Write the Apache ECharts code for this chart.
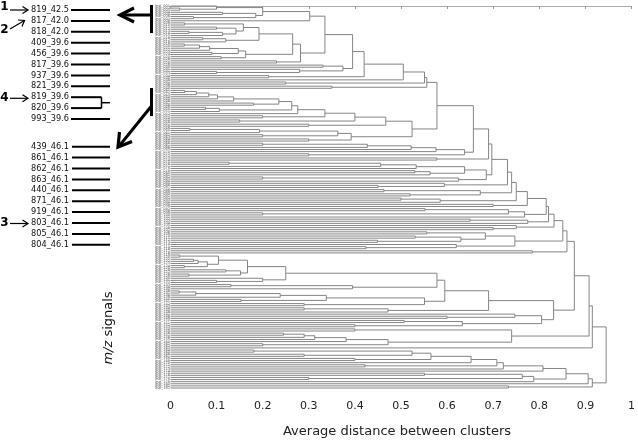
<!DOCTYPE html>
<html><head><meta charset="utf-8">
<script src="https://cdn.jsdelivr.net/npm/echarts@6/dist/echarts.min.js"></script>
<style>html,body{margin:0;padding:0;background:#fff}#c{width:638px;height:444px}</style>
</head><body><div id="c"></div>
<script>
// ---------- DATA ----------
// subtree = [mergeDistance, upperChild, lowerChild]; 0 = a single signal (leaf)
const T1 = [0.302, [0.20, [0.10, 0, [0.02, 0, 0]], [0.185, [0.113, 0, 0], [0.05, 0, 0]]], 0];
const T2a = [0.158, [0.031, 0, 0], [0.142, [0.10, 0, 0], [0.113, [0.04, 0, 0], 0]]];
const T2b = [0.12, [0.07, 0, 0], 0];
const T2c = [0.163, [0.147, [0.085, [0.063, [0.03, 0, 0], 0], 0], [0.09, 0, 0]], [0.11, 0, 0]];
const T3 = [0.374, [0.331, 0, 0], [0.28, 0, [0.1, 0, 0]]];
const topCluster = [0.42, [0.395, [0.335, T1, [0.282, [0.265, [0.192, T2a, T2b], T2c], [0.23, 0, 0]]], T3], [0.213, 0, 0]];

const M2a = [0.467, [0.40, [0.335, [0.276, [0.263, [0.235, [0.137, [0.102, [0.083, [0.056, [0.031, 0, 0], 0], 0], 0], 0], [0.18, 0, 0]], [0.106, [0.076, 0, 0], 0]], 0], [0.2, 0, 0]], [0.15, 0, 0]], [0.3, 0, 0]];
const M2b = [0.392, [0.363, [0.193, [0.042, 0, 0], 0], [0.2, 0, 0]], [0.3, 0, 0]];
const M2 = [0.524, M2a, M2b];
const M3 = [0.638, [0.576, [0.522, [0.427, [0.2, 0, 0], 0], 0], 0], [0.3, 0, 0]];
const M4 = [0.685, [0.638, [0.533, [0.456, [0.127, 0, 0], 0], 0], [0.563, [0.530, 0, 0], 0]], [0.625, [0.2, 0, 0], 0]];
const M5 = [0.747, [0.683, [0.556, 0, 0], [0.630, [0.531, 0, 0], [0.449, 0, 0]]], [0.62, 0, [0.424, 0, 0]]];

// successive merges of the upper group: [distance, cluster that joins]
const upperChain = [
  [0.505, 0], [0.551, [0.25, 0, 0]], [0.556, [0.35, 0, 0]], [0.578, M2], [0.657, M3],
  [0.690, [0.578, 0, 0]], [0.697, M4], [0.731, [0.594, 0, [0.45, 0, 0]]],
  [0.740, [0.672, [0.463, 0, 0], [0.52, 0, 0]]], [0.750, [0.585, [0.5, 0, 0], 0]],
  [0.774, [0.70, 0, 0]], [0.815, [0.768, [0.733, [0.552, 0, 0], [0.2, 0, 0]], 0]],
  [0.820, [0.775, [0.65, 0, 0], 0]], [0.832, [0.75, 0, [0.7, 0, 0]]],
  [0.851, M5], [0.860, [0.785, 0, 0]]
];

const C1 = [0.25, [0.167, [0.104, [0.02, 0, 0], [0.08, [0.06, [0.05, 0, 0], 0], [0.03, 0, 0]]], [0.152, [0.12, 0, 0], [0.04, 0, 0]]], [0.2, 0, [0.1, 0, 0]]];
const midChain = [
  [0.578, [0.395, [0.131, 0, 0], 0]],
  [0.595, [0.551, [0.338, [0.238, [0.055, [0.019, 0, 0], 0], 0], [0.153, 0, 0]], [0.29, 0, 0]]],
  [0.690, [0.472, [0.29, 0, 0], 0]],
  [0.831, [0.805, [0.747, 0, [0.6, 0, 0]], [0.633, [0.507, 0, 0], [0.4, 0, 0]]]]
];
const D1 = [0.740, [0.40, 0, 0], [0.472, [0.381, [0.313, [0.29, [0.245, 0, 0], 0], 0], 0], [0.2, 0, 0]]];

const B0 = [0.524, [0.181, 0, 0], [0.29, 0, 0]];
const bottomChain = [
  [0.565, [0.4, 0, 0]], [0.652, 0], [0.708, [0.422, 0, 0]], [0.722, 0], [0.808, 0],
  [0.858, [0.788, [0.763, [0.551, 0, 0], [0.3, 0, 0]], 0]], [0.906, 0], [0.915, [0.733, 0, 0]]
];
// top-level merges
const rootChainDist = [0.876, 0.908, 0.915, 0.945];

const xTickLabels = ['0', '0.1', '0.2', '0.3', '0.4', '0.5', '0.6', '0.7', '0.8', '0.9', '1'];
const groupA = ['819_42.5', '817_42.0', '818_42.0', '409_39.6', '456_39.6', '817_39.6', '937_39.6', '821_39.6', '819_39.6', '820_39.6', '993_39.6'];
const groupB = ['439_46.1', '861_46.1', '862_46.1', '863_46.1', '440_46.1', '871_46.1', '919_46.1', '803_46.1', '805_46.1', '804_46.1'];
const axisTitle = 'Average distance between clusters';

// ---------- build tree ----------
function fold(start, chain) { let n = start; chain.forEach(c => { n = [c[0], n, c[1]]; }); return n; }
const upper = fold(topCluster, upperChain);
const mid = fold(C1, midChain);
const bottom = fold(B0, bottomChain);
const root = fold(upper, [[rootChainDist[0], mid], [rootChainDist[1], D1], [rootChainDist[2], 0], [rootChainDist[3], bottom]]);

const links = [], leaves = [];
function layout(node) {
  if (node === 0) { const i = leaves.length; leaves.push(i); return { x: 0, y: i }; }
  const a = layout(node[1]), b = layout(node[2]);
  links.push([node[0], a.y, b.y, a.x, b.x]);
  return { x: node[0], y: (a.y + b.y) / 2 };
}
layout(root);
const N = leaves.length;
const leafNames = leaves.map(i => 'leaf_' + String(i + 1).padStart(3, '0'));

// ---------- chart ----------
const chart = echarts.init(document.getElementById('c'), null, { renderer: 'canvas' });
const F = 'DejaVu Sans';
const g = [];
function txt(x, y, t, o) { g.push(Object.assign({ type: 'text', x: x, y: y, silent: true, style: Object.assign({ text: t, fill: '#111', font: '8.2px ' + F, align: 'left', verticalAlign: 'middle' }, o || {}) })); }
function ln(x1, y1, x2, y2, w) { g.push({ type: 'line', silent: true, shape: { x1, y1, x2, y2 }, style: { stroke: '#000', lineWidth: w } }); }
function pl(pts, w) { g.push({ type: 'polyline', silent: true, shape: { points: pts }, style: { stroke: '#000', lineWidth: w, fill: null } }); }
groupA.forEach((t, i) => {
  const y = 10 + 10.9 * i;
  txt(31, y, t);
  if (i === 8 || i === 9) ln(71, y, 101.5, y, 2); else ln(71, y, 110, y, 2);
});
pl([[101.5, 97.2], [101.5, 108.1]], 1.5); ln(101.5, 102.7, 110, 102.7, 1.5);
groupB.forEach((t, i) => { const y = 146.7 + 10.9 * i; txt(31, y, t); ln(72, y, 110, y, 2); });
// numbers with small arrows
function num(x, y, t) { txt(x, y, t, { font: 'bold 12px ' + F, fill: '#000', align: 'center' }); }
num(4.5, 7, '1'); ln(10, 10, 28, 10, 1.2); pl([[22.5, 6.5], [28, 10], [22.5, 13.5]], 1.2);
num(4.5, 30, '2'); ln(10, 29, 24.5, 20.5, 1.2); pl([[18, 20], [24.5, 20.5], [22, 26.5]], 1.2);
num(4.5, 97.5, '4'); ln(10, 98.3, 28, 98.3, 1.2); pl([[22.5, 94.8], [28, 98.3], [22.5, 101.8]], 1.2);
num(4.5, 223.3, '3'); ln(10, 223.5, 28, 223.5, 1.2); pl([[22.5, 220], [28, 223.5], [22.5, 227]], 1.2);
// big arrows
ln(151.5, 5, 151.5, 33, 3); ln(122, 15, 151.5, 15, 3); pl([[134, 8], [120, 15], [134, 22]], 3.2);
ln(151.5, 88, 151.5, 116, 3); ln(151.5, 106, 120, 145, 3); pl([[119.5, 132], [118, 147], [132, 141.5]], 3.2);
// axis title and vertical label
txt(397, 432, axisTitle, { font: '13px ' + F, align: 'center', fill: '#222' });
g.push({ type: 'text', x: 108.5, y: 328, rotation: Math.PI / 2, silent: true,
  style: { text: '{i|m/z} signals', fontSize: 13, fontFamily: F, fill: '#111', align: 'center', verticalAlign: 'middle',
    rich: { i: { fontStyle: 'italic', fontSize: 13, fontFamily: F, fill: '#111' } } } });

chart.setOption({
  animation: false,
  backgroundColor: '#fff',
  grid: { left: 170.5, right: 1.3, top: 6, bottom: 56, containLabel: false },
  xAxis: {
    type: 'value', min: 0, max: 1, interval: 0.1, offset: 4, splitLine: { show: false },
    axisLine: { show: true, lineStyle: { color: '#aaa', width: 1 } },
    axisTick: { show: true, length: 3, lineStyle: { color: '#999' } },
    axisLabel: { margin: 9, fontSize: 11, fontFamily: F, color: '#222', formatter: v => xTickLabels[Math.round(v * 10)] }
  },
  yAxis: { type: 'value', min: 0, max: N - 1, inverse: true, show: false },
  series: [
    {
      type: 'custom', clip: false, silent: true, data: links,
      encode: { x: [0, 3], y: [1, 2] },
      renderItem: (p, api) => {
        const h = api.value(0), ya = api.value(1), yb = api.value(2), xa = api.value(3), xb = api.value(4);
        return { type: 'polyline', shape: { points: [api.coord([xa, ya]), api.coord([h, ya]), api.coord([h, yb]), api.coord([xb, yb])] },
          style: { stroke: '#858585', lineWidth: 1, fill: null } };
      }
    },
    {
      type: 'custom', clip: false, silent: true, data: leaves.map(i => [0, i]),
      renderItem: (p, api) => {
        const pt = api.coord([0, api.value(1)]);
        return { type: 'text', x: pt[0] - 0.5, y: pt[1], style: { text: leafNames[p.dataIndex], fill: '#6a6a6a', font: '3.6px ' + F, align: 'right', verticalAlign: 'middle' } };
      }
    }
  ],
  graphic: { elements: g }
});
</script></body></html>
